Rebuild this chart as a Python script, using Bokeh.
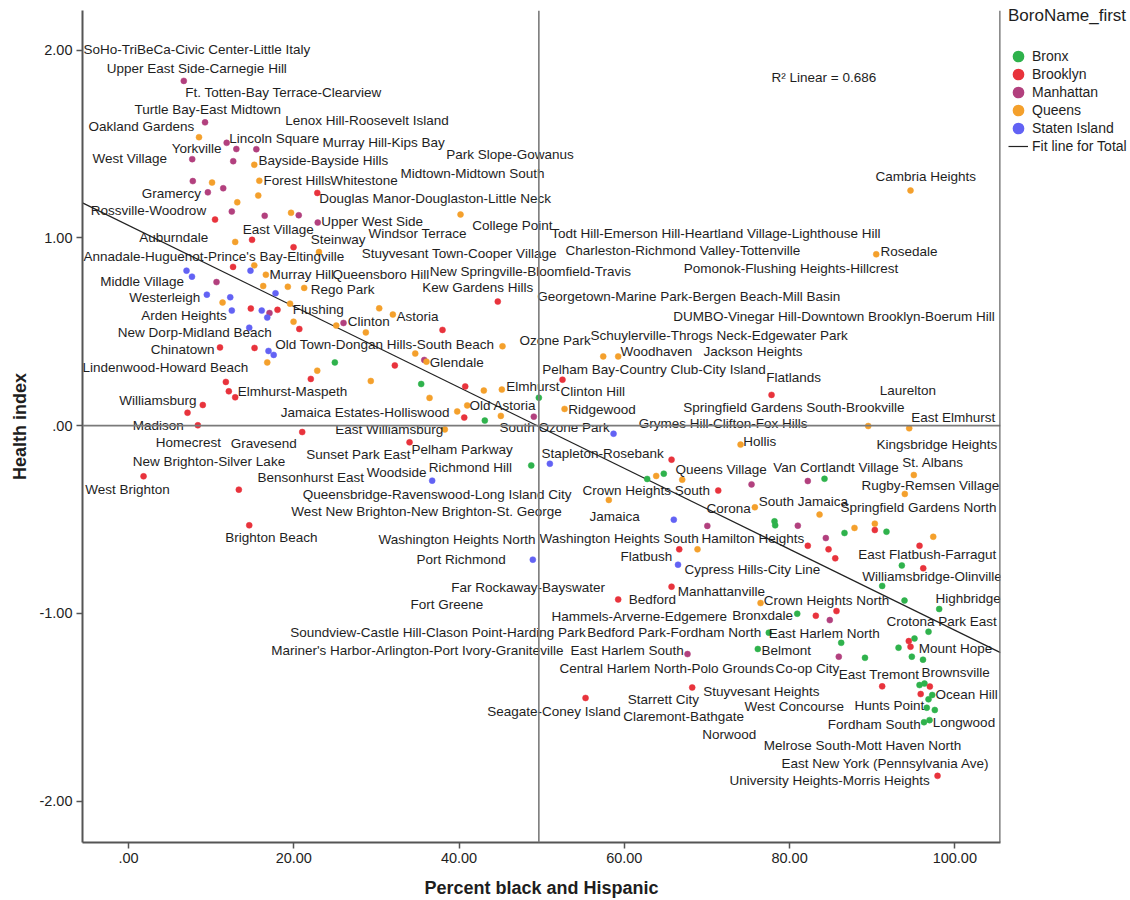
import numpy as np
from bokeh.plotting import figure
from bokeh.models import (Range1d, Span, Legend, LegendItem, FixedTicker, Label)
from bokeh.core.properties import value
from bokeh.embed import file_html
from bokeh.resources import INLINE

# ---------------- data ----------------
boroughs = ["Bronx", "Brooklyn", "Manhattan", "Queens", "Staten Island"]

bronx_pct = [49.66, 24.97, 35.42, 43.12, 48.74, 62.77, 64.78, 84.23, 78.18, 78.26, 86.65, 91.73,
             93.59, 91.21, 93.91, 98.11, 80.93, 77.49, 96.82, 95.12, 93.19, 86.25, 76.16, 89.13,
             94.80, 96.15, 95.73, 96.33, 97.27, 96.82, 96.61, 97.58, 96.27, 96.94]
bronx_hi = [0.149, 0.337, 0.222, 0.027, -0.212, -0.284, -0.256, -0.283, -0.510, -0.531, -0.572, -0.565,
            -0.745, -0.854, -0.932, -0.977, -1.002, -1.103, -1.098, -1.134, -1.183, -1.157, -1.190, -1.237,
            -1.231, -1.247, -1.382, -1.374, -1.435, -1.458, -1.503, -1.515, -1.580, -1.569]

brooklyn_pct = [22.85, 10.47, 14.95, 19.97, 12.65, 14.80, 18.03, 20.67, 11.07, 15.25, 22.06, 32.23,
                11.78, 12.14, 12.91, 8.99, 7.14, 8.39, 21.02, 1.82, 13.35, 14.61, 34.01, 44.69, 38.00,
                40.75, 40.63, 52.52, 65.72, 71.37, 77.82, 66.65, 90.32, 82.21, 84.72, 85.53, 95.73,
                96.18, 65.72, 59.26, 83.18, 85.68, 94.43, 94.64, 91.21, 96.98, 95.87, 68.22, 55.31, 97.91]
brooklyn_hi = [1.240, 1.098, 0.990, 0.951, 0.846, 0.624, 0.617, 0.515, 0.417, 0.414, 0.249, 0.321,
               0.233, 0.183, 0.151, 0.110, 0.069, 0.002, -0.034, -0.270, -0.341, -0.531, -0.089, 0.661,
               0.510, 0.209, 0.043, 0.245, -0.181, -0.346, 0.164, -0.659, -0.556, -0.640, -0.659, -0.707,
               -0.640, -0.760, -0.858, -0.926, -1.013, -0.988, -1.148, -1.178, -1.389, -1.390, -1.430,
               -1.395, -1.451, -1.866]

manhattan_pct = [6.69, 9.26, 11.88, 13.05, 15.47, 7.71, 12.67, 7.78, 11.46, 9.60, 12.50, 16.48, 20.60,
                 22.90, 10.65, 17.06, 26.02, 35.79, 49.05, 70.05, 75.40, 82.21, 81.00, 84.39, 84.87,
                 85.96, 67.65]
manhattan_hi = [1.837, 1.616, 1.507, 1.474, 1.473, 1.420, 1.409, 1.303, 1.265, 1.243, 1.141, 1.118,
                1.121, 1.082, 0.765, 0.600, 0.547, 0.350, 0.048, -0.534, -0.313, -0.295, -0.533, -0.599,
                -1.036, -1.231, -1.217]

queens_pct = [8.53, 15.22, 10.11, 15.83, 15.70, 13.16, 19.67, 12.91, 23.05, 15.22, 16.62, 11.38, 16.30,
              19.28, 21.26, 19.55, 19.97, 25.14, 30.34, 31.99, 28.72, 16.79, 22.84, 29.32, 40.18, 45.26,
              34.70, 36.06, 43.00, 45.18, 36.43, 40.99, 39.78, 45.06, 38.28, 57.45, 59.26, 52.77, 63.86,
              67.01, 58.13, 68.86, 74.07, 75.80, 83.63, 87.86, 90.32, 97.39, 95.04, 93.95, 89.52, 94.48,
              94.64, 90.49, 76.49]
queens_hi = [1.537, 1.390, 1.295, 1.305, 1.226, 1.190, 1.134, 0.979, 0.925, 0.854, 0.804, 0.656, 0.744,
             0.740, 0.734, 0.650, 0.554, 0.533, 0.625, 0.592, 0.497, 0.337, 0.293, 0.238, 1.125, 0.423,
             0.384, 0.341, 0.187, 0.192, 0.148, 0.108, 0.076, 0.052, -0.020, 0.369, 0.369, 0.089, -0.268,
             -0.288, -0.396, -0.659, -0.101, -0.435, -0.474, -0.545, -0.522, -0.592, -0.263, -0.364,
             -0.002, -0.014, 1.253, 0.913, -0.945]

staten_pct = [7.02, 7.68, 14.76, 17.79, 9.48, 12.31, 12.50, 16.12, 16.79, 14.61, 16.94, 17.57, 36.75,
              50.99, 58.70, 48.93, 65.99, 66.50]
staten_hi = [0.826, 0.794, 0.826, 0.705, 0.698, 0.684, 0.613, 0.613, 0.576, 0.522, 0.398, 0.377, -0.293,
             -0.203, -0.043, -0.714, -0.501, -0.741]

fit_intercept = 1.067
fit_slope = -0.02157
r2_linear = 0.686
mean_pct = 49.66

x_ticks = [0, 20, 40, 60, 80, 100]
x_tick_labels = [".00", "20.00", "40.00", "60.00", "80.00", "100.00"]
y_ticks = [-2, -1, 0, 1, 2]
y_tick_labels = ["-2.00", "-1.00", ".00", "1.00", "2.00"]

# neighbourhood labels (as placed by the original chart)
nta_names = [
    "SoHo-TriBeCa-Civic Center-Little Italy", "Upper East Side-Carnegie Hill",
    "Ft. Totten-Bay Terrace-Clearview", "Turtle Bay-East Midtown", "Lenox Hill-Roosevelt Island",
    "Oakland Gardens", "Lincoln Square", "Murray Hill-Kips Bay", "Yorkville", "Park Slope-Gowanus",
    "West Village", "Bayside-Bayside Hills", "Midtown-Midtown South", "Forest Hills", "Whitestone",
    "Gramercy", "Douglas Manor-Douglaston-Little Neck", "Rossville-Woodrow", "Upper West Side",
    "College Point", "East Village", "Todt Hill-Emerson Hill-Heartland Village-Lighthouse Hill",
    "Windsor Terrace", "Auburndale", "Steinway", "Charleston-Richmond Valley-Tottenville", "Rosedale",
    "Stuyvesant Town-Cooper Village", "Annadale-Huguenot-Prince's Bay-Eltingville",
    "Pomonok-Flushing Heights-Hillcrest", "New Springville-Bloomfield-Travis", "Murray Hill",
    "Queensboro Hill", "Middle Village", "Kew Gardens Hills", "Rego Park",
    "Georgetown-Marine Park-Bergen Beach-Mill Basin", "Westerleigh", "Flushing", "Arden Heights",
    "Astoria", "DUMBO-Vinegar Hill-Downtown Brooklyn-Boerum Hill", "Clinton", "New Dorp-Midland Beach",
    "Schuylerville-Throgs Neck-Edgewater Park", "Ozone Park", "Old Town-Dongan Hills-South Beach",
    "Chinatown", "Woodhaven", "Jackson Heights", "Glendale", "Lindenwood-Howard Beach",
    "Pelham Bay-Country Club-City Island", "Flatlands", "Elmhurst", "Laurelton", "Elmhurst-Maspeth",
    "Clinton Hill", "Williamsburg", "Old Astoria", "Springfield Gardens South-Brookville", "Ridgewood",
    "Jamaica Estates-Holliswood", "East Elmhurst", "Grymes Hill-Clifton-Fox Hills", "Madison",
    "South Ozone Park", "East Williamsburg", "Hollis", "Homecrest", "Gravesend", "Kingsbridge Heights",
    "Pelham Parkway", "Stapleton-Rosebank", "Sunset Park East", "New Brighton-Silver Lake", "St. Albans",
    "Van Cortlandt Village", "Richmond Hill", "Queens Village", "Woodside", "Bensonhurst East",
    "Rugby-Remsen Village", "West Brighton", "Crown Heights South",
    "Queensbridge-Ravenswood-Long Island City", "South Jamaica", "Springfield Gardens North", "Corona",
    "West New Brighton-New Brighton-St. George", "Jamaica", "Brighton Beach", "Washington Heights South",
    "Hamilton Heights", "Washington Heights North", "East Flatbush-Farragut", "Flatbush", "Port Richmond",
    "Cypress Hills-City Line", "Williamsbridge-Olinville", "Far Rockaway-Bayswater", "Manhattanville",
    "Highbridge", "Bedford", "Crown Heights North", "Fort Greene", "Bronxdale", "Hammels-Arverne-Edgemere",
    "Crotona Park East", "Soundview-Castle Hill-Clason Point-Harding Park", "Bedford Park-Fordham North",
    "East Harlem North", "Mount Hope", "Mariner's Harbor-Arlington-Port Ivory-Graniteville", "Belmont",
    "East Harlem South", "Central Harlem North-Polo Grounds", "Co-op City", "Brownsville", "East Tremont",
    "Stuyvesant Heights", "Ocean Hill", "Starrett City", "Hunts Point", "West Concourse",
    "Seagate-Coney Island", "Claremont-Bathgate", "Longwood", "Fordham South", "Norwood",
    "Melrose South-Mott Haven North", "East New York (Pennsylvania Ave)",
    "University Heights-Morris Heights", "Cambria Heights",
]
label_x = [
    -5.45, -2.63, 6.86, 0.73, 18.96, -4.84, 12.19, 23.48, 5.24, 38.45, -4.36, 15.73, 32.92, 16.34, 24.41,
    1.61, 23.08, -4.56, 23.32, 41.60, 13.83, 51.16, 29.05, 1.29, 22.06, 52.89, 91.01, 28.23, -5.45,
    67.20, 36.46, 17.06, 24.69, -3.42, 35.54, 22.06, 49.46, 0.08, 19.88, 1.54, 32.43, 65.92, 26.54,
    -1.29, 55.91, 47.32, 17.75, 2.70, 59.54, 69.59, 36.46, -5.57, 50.07, 77.18, 45.71, 90.92, 13.23,
    52.28, -1.13, 41.27, 67.13, 53.21, 18.43, 94.72, 61.76, 0.52, 44.90, 25.02, 74.39, 3.30, 12.38,
    90.52, 34.25, 49.98, 21.51, 0.52, 93.63, 78.02, 36.34, 66.20, 28.84, 15.61, 88.71, -5.24, 54.94,
    21.09, 76.28, 86.17, 69.95, 19.69, 55.79, 11.70, 49.74, 69.35, 30.26, 88.31, 59.54, 34.85, 67.29,
    88.79, 39.05, 66.48, 97.66, 60.55, 76.89, 34.13, 73.06, 51.19, 91.73, 19.57, 55.51, 77.49, 95.64,
    17.27, 76.61, 53.49, 52.16, 78.30, 95.97, 85.96, 69.55, 97.66, 60.43, 87.86, 74.55, 43.41, 59.87,
    97.34, 84.63, 69.43, 76.89, 79.03, 72.73, 90.40,
]
label_y = [
    2.003, 1.905, 1.777, 1.686, 1.626, 1.592, 1.531, 1.507, 1.478, 1.443, 1.422, 1.413, 1.345, 1.304,
    1.304, 1.238, 1.208, 1.146, 1.087, 1.066, 1.046, 1.022, 1.022, 1.004, 0.990, 0.933, 0.929, 0.915,
    0.902, 0.835, 0.822, 0.805, 0.805, 0.769, 0.734, 0.723, 0.689, 0.681, 0.617, 0.586, 0.583, 0.581,
    0.554, 0.494, 0.483, 0.453, 0.435, 0.404, 0.393, 0.393, 0.337, 0.308, 0.300, 0.254, 0.206, 0.187,
    0.181, 0.181, 0.133, 0.105, 0.098, 0.085, 0.068, 0.043, 0.009, 0.002, -0.009, -0.018, -0.082,
    -0.089, -0.094, -0.100, -0.128, -0.148, -0.155, -0.190, -0.197, -0.222, -0.222, -0.231, -0.249,
    -0.276, -0.318, -0.341, -0.346, -0.369, -0.405, -0.435, -0.441, -0.458, -0.483, -0.595, -0.599,
    -0.599, -0.609, -0.688, -0.698, -0.711, -0.769, -0.803, -0.862, -0.885, -0.921, -0.926, -0.933,
    -0.953, -1.013, -1.017, -1.041, -1.102, -1.103, -1.105, -1.187, -1.196, -1.196, -1.199, -1.294,
    -1.295, -1.315, -1.327, -1.416, -1.430, -1.457, -1.493, -1.496, -1.521, -1.547, -1.583, -1.592,
    -1.643, -1.706, -1.798, -1.892, 1.327,
]

# ---------------- style ----------------
FONT = "Liberation Sans"
TEXT = "#1e1e1e"
colors = {"Bronx": "#2fb24c", "Brooklyn": "#e8333c", "Manhattan": "#b2407e",
          "Queens": "#f4a02c", "Staten Island": "#6262f4"}
series = {"Bronx": (bronx_pct, bronx_hi), "Brooklyn": (brooklyn_pct, brooklyn_hi),
          "Manhattan": (manhattan_pct, manhattan_hi), "Queens": (queens_pct, queens_hi),
          "Staten Island": (staten_pct, staten_hi)}

X0, X1 = -5.57, 105.53
Y0, Y1 = -2.221, 2.212
FW, FH = 918, 832

p = figure(width=1126, height=898, frame_width=FW, frame_height=FH,
           output_backend="svg", toolbar_location=None,
           x_range=Range1d(X0, X1), y_range=Range1d(Y0, Y1),
           min_border_left=82, min_border_right=126, min_border_top=10, min_border_bottom=56,
           background_fill_color="white", border_fill_color="white")
p.outline_line_color = None
p.xgrid.grid_line_color = None
p.ygrid.grid_line_color = None

# reference lines
p.add_layout(Span(location=mean_pct, dimension="height", line_color="#7a7a7a", line_width=1.6))
p.add_layout(Span(location=0, dimension="width", line_color="#7a7a7a", line_width=1.6))
p.add_layout(Span(location=X1, dimension="height", line_color="#666666", line_width=2.5))

# fit line for total
fit_x = [X0, X1]
fit_y = [fit_intercept + fit_slope * v for v in fit_x]
fit_r = p.line(fit_x, fit_y, line_color="#222222", line_width=1.2)

# points
for b in boroughs:
    xs, ys = series[b]
    p.scatter(xs, ys, size=6, fill_color=colors[b], line_color=colors[b], line_width=0.5)

# labels
p.text(x=label_x, y=label_y, text=nta_names, text_font=value(FONT),
       text_font_size=value("13.5px"), text_color=TEXT,
       text_align="left", text_baseline="middle")

p.add_layout(Label(x=77.82, y=1.857, text=f"R\u00b2 Linear = {r2_linear:.3f}", text_font=FONT,
                   text_font_size="13.5px", text_color=TEXT, text_baseline="middle"))

# axes
for ax, ticks, labels in ((p.xaxis, x_ticks, x_tick_labels), (p.yaxis, y_ticks, y_tick_labels)):
    ax.ticker = FixedTicker(ticks=ticks)
    ax.major_label_overrides = {t: l for t, l in zip(ticks, labels)}
    ax.minor_tick_line_color = None
    ax.major_tick_in = 0
    ax.major_tick_out = 6
    ax.axis_line_color = "#555555"
    ax.axis_line_width = 2
    ax.major_tick_line_color = "#555555"
    ax.major_tick_line_width = 1.5
    ax.major_label_text_font = FONT
    ax.major_label_text_font_size = "14.5px"
    ax.major_label_text_color = TEXT
    ax.major_label_standoff = 4
    ax.axis_label_text_font = FONT
    ax.axis_label_text_font_style = "bold"
    ax.axis_label_text_font_size = "18px"
    ax.axis_label_text_color = TEXT
p.xaxis.axis_label = "Percent black and Hispanic"
p.yaxis.axis_label = "Health index"
p.xaxis.axis_label_standoff = 12
p.yaxis.axis_label_standoff = 6

# legend: proxy renderers (no visible data) carry the swatch style
items = []
for b in boroughs:
    r = p.scatter(x=np.array([np.nan]), y=np.array([np.nan]), size=6,
                  fill_color=colors[b], line_color=colors[b], line_width=4.5)
    items.append(LegendItem(label=b, renderers=[r]))
items.append(LegendItem(label="Fit line for Total", renderers=[fit_r]))

title_h, standoff, pitch = 20, 21, 18
legend_h = title_h + standoff + pitch * len(items)
legend = Legend(items=items, title="BoroName_first",
                location=(8, FH - legend_h + 4),
                margin=0, padding=0, spacing=0, glyph_width=20, glyph_height=pitch,
                label_standoff=4, title_standoff=standoff,
                border_line_color=None, background_fill_alpha=0,
                label_text_font=FONT, label_text_font_size="14px", label_text_color=TEXT,
                title_text_font=FONT, title_text_font_size="17px", title_text_font_style="normal",
                title_text_color=TEXT)
p.add_layout(legend, "right")

open("out.html", "w").write(file_html(p, INLINE))
